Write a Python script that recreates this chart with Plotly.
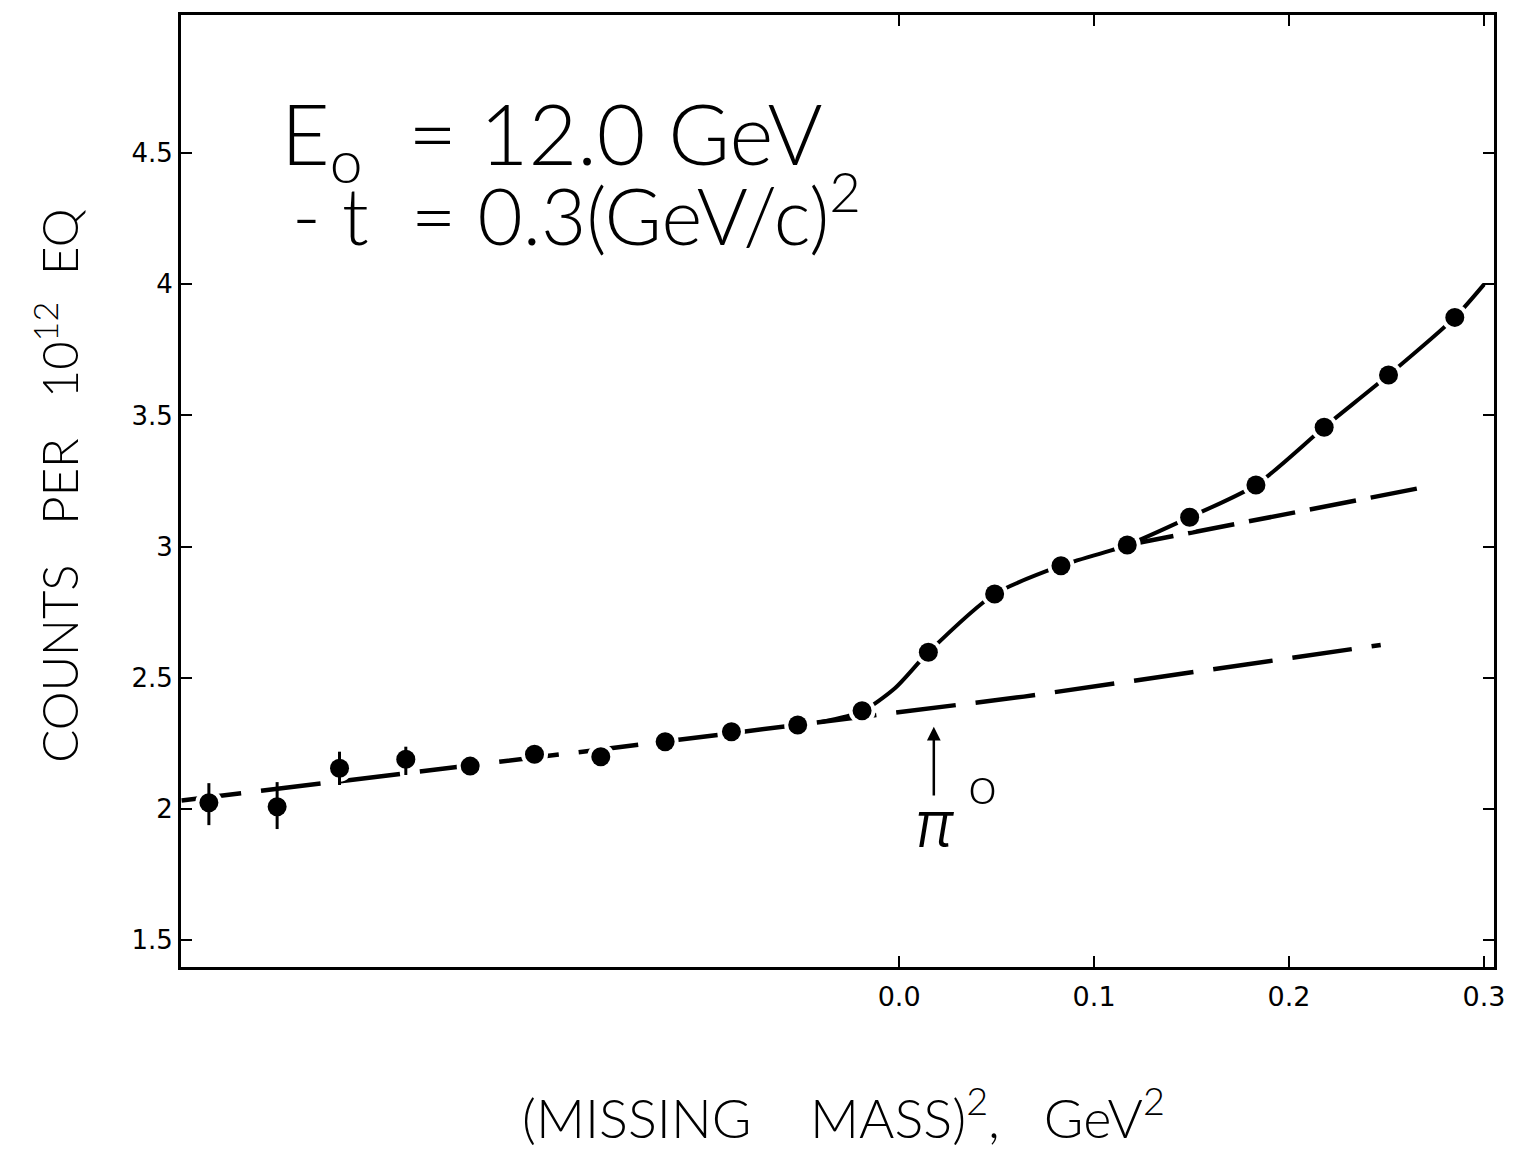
import plotly.graph_objects as go

# ---------------- data ----------------
mm2 = [-0.354, -0.319, -0.287, -0.253, -0.220, -0.187, -0.153, -0.120, -0.086, -0.052,
       -0.019, 0.015, 0.049, 0.083, 0.117, 0.149, 0.183, 0.218, 0.251, 0.285]
counts = [2.023, 2.008, 2.155, 2.189, 2.163, 2.208, 2.199, 2.256, 2.294, 2.320,
          2.374, 2.597, 2.819, 2.927, 3.006, 3.112, 3.235, 3.455, 3.654, 3.874]
err_up = [0.075, 0.094, 0.063, 0.048] + [0.0] * 16
err_dn = [0.085, 0.085, 0.064, 0.060] + [0.0] * 16

# background (dashed) line
bg_x = [-0.368, -0.148, 0.064, 0.134, 0.247]
bg_y = [2.032, 2.231, 2.428, 2.504, 2.625]

# extrapolated background above the pi0 (dashed)
bg2_x = [0.117, 0.269]
bg2_y = [3.006, 3.226]

# fitted curve (solid)
fit_x = [-0.040, -0.019, -0.002, 0.015, 0.049, 0.083, 0.117, 0.149, 0.183,
         0.218, 0.251, 0.285, 0.300]
fit_y = [2.331, 2.372, 2.461, 2.597, 2.819, 2.927, 3.006, 3.112, 3.235,
         3.455, 3.654, 3.874, 4.000]

x_ticks = [0.0, 0.1, 0.2, 0.3]
x_ticktext = ["0.0", "0.1", "0.2", "0.3"]
y_ticks = [1.5, 2.0, 2.5, 3.0, 3.5, 4.0, 4.5]
y_ticktext = ["1.5", "2", "2.5", "3", "3.5", "4", "4.5"]

pi0_x = 0.0178
arrow_y = [2.045, 2.313]

# ---------------- figure ----------------
W, H = 1517, 1152
L, R, T, B = 181, 14, 15, 185
PW, PH = W - L - R, H - T - B


def px(xp):
    return (xp - L) / PW


def py(yp):
    return (H - B - yp) / PH


TXT = "Lato Light, Lato, DejaVu Sans, sans-serif"
TICK = "DejaVu Sans, sans-serif"

fig = go.Figure()

fig.add_trace(go.Scatter(x=bg_x, y=bg_y, mode="lines",
                         line=dict(color="black", width=4.5, dash="60px,20px"),
                         hoverinfo="skip", showlegend=False))
fig.add_trace(go.Scatter(x=bg2_x, y=bg2_y, mode="lines",
                         line=dict(color="black", width=4.5, dash="47px,15px"),
                         hoverinfo="skip", showlegend=False))
fig.add_trace(go.Scatter(x=fit_x, y=fit_y, mode="lines",
                         line=dict(color="black", width=4, shape="spline", smoothing=0.7),
                         hoverinfo="skip", showlegend=False))
# white halo behind the points
fig.add_trace(go.Scatter(x=mm2, y=counts, mode="markers",
                         marker=dict(color="white", size=27),
                         hoverinfo="skip", showlegend=False))
fig.add_trace(go.Scatter(x=mm2, y=counts, mode="markers",
                         marker=dict(color="black", size=19),
                         error_y=dict(type="data", symmetric=False, array=err_up,
                                      arrayminus=err_dn, color="black",
                                      thickness=3, width=0),
                         showlegend=False))

fig.update_xaxes(range=[-0.3683, 0.3051], tickvals=x_ticks, ticktext=x_ticktext,
                 ticks="inside", ticklen=11, tickwidth=2, tickcolor="black",
                 showline=True, linewidth=3, linecolor="black", mirror="allticks",
                 showgrid=False, zeroline=False, ticklabelstandoff=4,
                 tickfont=dict(family=TICK, size=27, color="black"))
fig.update_yaxes(range=[1.397, 5.027], tickvals=y_ticks, ticktext=y_ticktext,
                 ticks="inside", ticklen=11, tickwidth=2, tickcolor="black",
                 showline=True, linewidth=3, linecolor="black", mirror="allticks",
                 showgrid=False, zeroline=False, ticklabelstandoff=0,
                 tickfont=dict(family=TICK, size=26, color="black"))

NB = "\u00a0"
annotations = [
    # y-axis title
    dict(x=px(55), y=py(486), xref="paper", yref="paper", textangle=-90,
         xanchor="center", yanchor="middle",
         text=f"COUNTS{NB*3}PER{NB*3}10<sup>12</sup>{NB*2}EQ",
         font=dict(family=TXT, size=49, color="black"), showarrow=False),
    # x-axis title
    dict(x=px(848), y=py(1114), xref="paper", yref="paper",
         xanchor="center", yanchor="middle",
         text=f"(MISSING{NB*4}MASS)<sup>2</sup>,{NB*3}GeV<sup>2</sup>",
         font=dict(family=TXT, size=54, color="black"), showarrow=False),
    # energy / t labels
    dict(x=px(280), y=py(80), xref="paper", yref="paper",
         xanchor="left", yanchor="top",
         text=f"E<sub>o</sub>{NB*2}={NB}12.0 GeV",
         font=dict(family=TXT, size=84, color="black"), showarrow=False),
    dict(x=px(291), y=py(156), xref="paper", yref="paper",
         xanchor="left", yanchor="top",
         text=f"-{NB}t{NB}{NB}={NB}0.3(GeV/c)<sup>2</sup>",
         font=dict(family=TXT, size=78, color="black"), showarrow=False),
    # pi0 arrow and label
    dict(x=pi0_x, y=arrow_y[1], ax=pi0_x, ay=arrow_y[0], xref="x", yref="y",
         axref="x", ayref="y", text="", showarrow=True, arrowhead=2,
         arrowsize=1.1, arrowwidth=2.5, arrowcolor="black"),
    dict(x=px(940), y=py(823), xref="paper", yref="paper", text="<i>π</i>",
         xanchor="center", yanchor="middle",
         font=dict(family="Inter, DejaVu Sans, sans-serif", size=64, weight=300,
                   color="black"), showarrow=False),
    dict(x=px(988), y=py(784), xref="paper", yref="paper", text="o",
         xanchor="center", yanchor="middle",
         font=dict(family=TXT, size=52, color="black"), showarrow=False),
]

fig.update_layout(width=W, height=H, margin=dict(l=L, r=R, t=T, b=B),
                  paper_bgcolor="white", plot_bgcolor="white",
                  annotations=annotations, showlegend=False)

fig.write_html("out.html")
